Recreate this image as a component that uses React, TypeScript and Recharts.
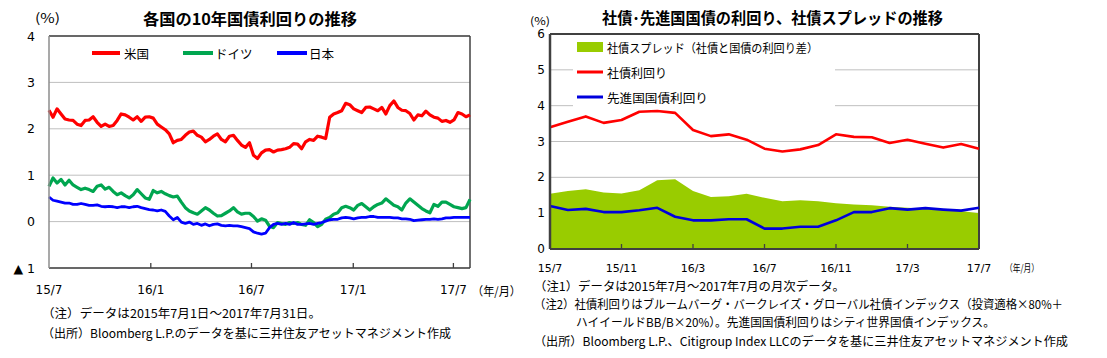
import React from 'react';
import {
  LineChart,
  Line,
  XAxis,
  YAxis,
  CartesianGrid,
  ReferenceLine,
  ComposedChart,
  Area,
} from 'recharts';

const JP = '"Noto Sans CJK JP", "Noto Sans", sans-serif';
const NUM = '"DejaVu Sans", Verdana, sans-serif';

// ---------- Left chart: 10Y government bond yields (sampled evenly 2015/7/1 - 2017/7/31) ----------
const usYield = [
  2.40, 2.25, 2.43, 2.32, 2.21, 2.19, 2.18, 2.10, 2.07, 2.18, 2.19, 2.26, 2.14, 2.05, 2.10, 2.05, 2.07, 2.18,
  2.32, 2.30, 2.25, 2.19, 2.26, 2.16, 2.25, 2.26, 2.23, 2.10, 2.04, 1.98, 1.89, 1.70, 1.75, 1.77, 1.86, 1.93,
  1.95, 1.86, 1.82, 1.72, 1.77, 1.84, 1.89, 1.77, 1.72, 1.84, 1.86, 1.75, 1.65, 1.60, 1.70, 1.43, 1.36,
  1.48, 1.54, 1.55, 1.50, 1.54, 1.55, 1.57, 1.60, 1.68, 1.67, 1.57, 1.72, 1.77, 1.75, 1.84, 1.82, 1.79, 2.25,
  2.32, 2.35, 2.39, 2.55, 2.52, 2.43, 2.39, 2.35, 2.46, 2.47, 2.43, 2.39, 2.46, 2.32, 2.50, 2.60, 2.46, 2.40,
  2.39, 2.33, 2.19, 2.30, 2.28, 2.38, 2.30, 2.25, 2.23, 2.16, 2.18, 2.14, 2.19, 2.35, 2.32, 2.26, 2.30,
];
const deYield = [
  0.76, 0.94, 0.83, 0.91, 0.79, 0.89, 0.79, 0.74, 0.69, 0.72, 0.69, 0.65, 0.76, 0.79, 0.70, 0.74, 0.65, 0.58,
  0.62, 0.56, 0.51, 0.58, 0.69, 0.60, 0.51, 0.48, 0.67, 0.62, 0.65, 0.60, 0.56, 0.53, 0.55, 0.42, 0.30, 0.23,
  0.19, 0.16, 0.23, 0.30, 0.25, 0.18, 0.12, 0.13, 0.18, 0.23, 0.30, 0.21, 0.16, 0.18, 0.18, 0.11, 0.01,
  0.06, 0.03, -0.10, -0.13, -0.02, -0.04, -0.06, -0.02, -0.04, -0.02, -0.06, -0.08, 0.04, -0.02, -0.11, -0.06, 0.05, 0.09,
  0.16, 0.19, 0.30, 0.33, 0.30, 0.25, 0.35, 0.39, 0.32, 0.25, 0.32, 0.37, 0.40, 0.49, 0.42, 0.35, 0.32, 0.25,
  0.40, 0.49, 0.42, 0.35, 0.28, 0.23, 0.19, 0.37, 0.33, 0.42, 0.42, 0.37, 0.32, 0.30, 0.28, 0.30, 0.48,
];
const jpYield = [
  0.53, 0.46, 0.44, 0.42, 0.40, 0.40, 0.37, 0.37, 0.39, 0.37, 0.35, 0.35, 0.36, 0.33, 0.32, 0.33, 0.32, 0.30,
  0.32, 0.32, 0.30, 0.32, 0.33, 0.30, 0.28, 0.26, 0.25, 0.23, 0.25, 0.22, 0.12, 0.04, 0.09, -0.01, -0.04, -0.01,
  -0.06, -0.04, -0.08, -0.05, -0.09, -0.06, -0.05, -0.08, -0.09, -0.08, -0.09, -0.09, -0.11, -0.13, -0.15, -0.22, -0.25,
  -0.27, -0.25, -0.13, -0.06, -0.04, -0.06, -0.04, -0.06, -0.02, -0.06, -0.06, -0.05, -0.04, -0.06, -0.04, -0.02, 0.01, 0.04,
  0.05, 0.05, 0.08, 0.09, 0.08, 0.06, 0.08, 0.09, 0.09, 0.11, 0.11, 0.09, 0.09, 0.09, 0.09, 0.08, 0.08, 0.06,
  0.06, 0.05, 0.02, 0.03, 0.04, 0.05, 0.05, 0.06, 0.05, 0.06, 0.08, 0.08, 0.09, 0.09, 0.09, 0.09, 0.09,
];
const LEFT_SPAN_DAYS = 761; // 2015/7/1 -> 2017/7/31
const leftTickDays = [0, 184, 366, 550, 731];
const leftTickLabels = ['15/7', '16/1', '16/7', '17/1', '17/7'];
const leftYTicks = [-1, 0, 1, 2, 3, 4];

const leftData = usYield.map((v, i) => ({
  day: (i * LEFT_SPAN_DAYS) / (usYield.length - 1),
  us: v,
  de: deYield[i],
  jp: jpYield[i],
}));

// ---------- Right chart: monthly corporate / developed gov yields and spread ----------
const months = [
  '15/7', '15/8', '15/9', '15/10', '15/11', '15/12', '16/1', '16/2', '16/3', '16/4', '16/5', '16/6', '16/7',
  '16/8', '16/9', '16/10', '16/11', '16/12', '17/1', '17/2', '17/3', '17/4', '17/5', '17/6', '17/7',
];
const corpYield = [
  3.40, 3.55, 3.70, 3.52, 3.60, 3.83, 3.85, 3.80, 3.32, 3.15, 3.20, 3.05, 2.80,
  2.72, 2.78, 2.90, 3.20, 3.13, 3.12, 2.96, 3.05, 2.94, 2.83, 2.93, 2.80,
];
const govYield = [
  1.20, 1.09, 1.12, 1.03, 1.03, 1.08, 1.15, 0.90, 0.80, 0.80, 0.83, 0.83, 0.57,
  0.57, 0.62, 0.62, 0.80, 1.03, 1.03, 1.14, 1.10, 1.14, 1.10, 1.07, 1.15,
];
const creditSpread = [
  1.54, 1.62, 1.67, 1.58, 1.55, 1.64, 1.92, 1.95, 1.62, 1.45, 1.47, 1.54, 1.43,
  1.33, 1.36, 1.33, 1.28, 1.24, 1.22, 1.18, 1.15, 1.12, 1.10, 1.06, 1.00,
];
const rightYTicks = [0, 1, 2, 3, 4, 5, 6];

const rightData = months.map((m, i) => ({
  month: m,
  corp: corpYield[i],
  gov: govYield[i],
  spread: creditSpread[i],
}));

// ---------- tick renderers ----------
const LeftXTick = ({ x, y, payload }: any) => {
  const idx = leftTickDays.indexOf(payload.value);
  return (
    <g>
      {idx > 0 && <line x1={x} x2={x} y1={y} y2={y - 5} stroke="#404040" strokeWidth={1.3} />}
      <text x={x} y={y + 22} textAnchor="middle" dominantBaseline="central" fontFamily={NUM} fontSize={12} fill="#000">
        {leftTickLabels[idx]}
      </text>
    </g>
  );
};

const LeftYTick = ({ x, y, payload }: any) => {
  const v = payload.value as number;
  const label = v < 0 ? '▲ ' + Math.abs(v) : String(v);
  return (
    <text x={x - 14} y={y} textAnchor="end" dominantBaseline="central" fontFamily={NUM} fontSize={12.5} fill="#000">
      {label}
    </text>
  );
};

const RightXTick = ({ x, y, payload }: any) => (
  <g>
    <line x1={x} x2={x} y1={y} y2={y - 5} stroke="#404040" strokeWidth={1.3} />
    <text x={x} y={y + 19} textAnchor="middle" dominantBaseline="central" fontFamily={NUM} fontSize={11} fill="#000">
      {payload.value}
    </text>
  </g>
);

const RightYTick = ({ x, y, payload }: any) => (
  <text x={x - 5} y={y} textAnchor="end" dominantBaseline="central" fontFamily={NUM} fontSize={12} fill="#000">
    {payload.value}
  </text>
);

const T = ({ x, y, children, size = 12, len, weight, anchor = 'start', family = JP }: any) => (
  <text
    x={x}
    y={y}
    fontSize={size}
    fontFamily={family}
    fontWeight={weight}
    textAnchor={anchor}
    dominantBaseline="central"
    fill="#000"
    {...(len ? { textLength: len, lengthAdjust: 'spacingAndGlyphs' } : {})}
  >
    {children}
  </text>
);

export default function App() {
  return (
    <div style={{ position: 'absolute', left: 0, top: 0, width: 1107, height: 358, background: '#fff', overflow: 'hidden' }}>
      {/* Left chart */}
      <div style={{ position: 'absolute', left: 0, top: 0 }}>
        <LineChart width={530} height={310} data={leftData} margin={{ top: 36, right: 60, bottom: 12, left: 19 }}>
          <CartesianGrid vertical={false} stroke="#bfbfbf" strokeWidth={1} />
          <XAxis
            type="number"
            dataKey="day"
            domain={[0, LEFT_SPAN_DAYS]}
            ticks={leftTickDays}
            height={30}
            tickSize={0}
            tickMargin={0}
            tickLine={false}
            tick={<LeftXTick />}
            axisLine={{ stroke: '#404040', strokeWidth: 1.5 }}
            interval={0}
          />
          <YAxis
            type="number"
            domain={[-1, 4]}
            ticks={leftYTicks}
            width={30}
            tickSize={0}
            tickMargin={0}
            tickLine={false}
            tick={<LeftYTick />}
            axisLine={{ stroke: '#8c8c8c', strokeWidth: 1.5 }}
            interval={0}
          />
          <ReferenceLine y={4} stroke="#404040" strokeWidth={1.5} />
          <ReferenceLine x={LEFT_SPAN_DAYS} stroke="#404040" strokeWidth={1.5} />
          <Line type="linear" dataKey="us" stroke="#ff0000" strokeWidth={3.2} dot={false} isAnimationActive={false} strokeLinejoin="round" />
          <Line type="linear" dataKey="de" stroke="#00a650" strokeWidth={3.2} dot={false} isAnimationActive={false} strokeLinejoin="round" />
          <Line type="linear" dataKey="jp" stroke="#0000ff" strokeWidth={2.8} dot={false} isAnimationActive={false} strokeLinejoin="round" />
        </LineChart>
      </div>

      {/* Right chart */}
      <div style={{ position: 'absolute', left: 500, top: 0 }}>
        <ComposedChart width={540} height={300} data={rightData} margin={{ top: 34, right: 61, bottom: 21, left: 20 }}>
          <CartesianGrid vertical={false} stroke="#bfbfbf" strokeWidth={1} />
          <XAxis
            dataKey="month"
            scale="point"
            padding={{ left: 0, right: 0 }}
            interval={3}
            height={30}
            tickSize={0}
            tickMargin={0}
            tickLine={false}
            tick={<RightXTick />}
            axisLine={{ stroke: '#404040', strokeWidth: 2 }}
          />
          <YAxis
            type="number"
            domain={[0, 6]}
            ticks={rightYTicks}
            width={30}
            tickSize={0}
            tickMargin={0}
            tickLine={false}
            tick={<RightYTick />}
            axisLine={{ stroke: '#404040', strokeWidth: 2.5 }}
            interval={0}
          />
          <Area type="linear" dataKey="spread" stroke="none" fill="#99cc00" fillOpacity={1} isAnimationActive={false} />
          <ReferenceLine y={6} stroke="#404040" strokeWidth={2} />
          <ReferenceLine x="17/7" stroke="#404040" strokeWidth={2} />
          <Line type="linear" dataKey="corp" stroke="#ff0000" strokeWidth={2.6} dot={false} isAnimationActive={false} strokeLinejoin="round" />
          <Line type="linear" dataKey="gov" stroke="#0000dd" strokeWidth={2.6} dot={false} isAnimationActive={false} strokeLinejoin="round" />
        </ComposedChart>
      </div>

      {/* Overlay texts and legends */}
      <svg width={1107} height={358} style={{ position: 'absolute', left: 0, top: 0, pointerEvents: 'none' }}>
        {/* left */}
        <T x={35} y={17} size={13} len={25}>(%)</T>
        <T x={143} y={18} size={16} weight="bold" len={214}>各国の10年国債利回りの推移</T>
        <line x1={92} x2={120} y1={53} y2={53} stroke="#ff0000" strokeWidth={4} />
        <T x={124} y={53} size={12.5}>米国</T>
        <line x1={183} x2={213} y1={53} y2={53} stroke="#00a650" strokeWidth={4} />
        <T x={215} y={53} size={12.5}>ドイツ</T>
        <line x1={277} x2={307} y1={53} y2={53} stroke="#0000ff" strokeWidth={4} />
        <T x={309} y={53} size={12.5}>日本</T>
        <T x={472} y={290} size={12} len={49}>（年/月）</T>
        <T x={42} y={312} size={12} len={279}>（注）データは2015年7月1日～2017年7月31日。</T>
        <T x={42} y={332} size={12} len={409}>（出所）Bloomberg L.P.のデータを基に三井住友アセットマネジメント作成</T>

        {/* right */}
        <T x={530} y={20} size={11} len={20}>(%)</T>
        <T x={602} y={17} size={16} weight="bold" len={341}>社債･先進国国債の利回り、社債スプレッドの推移</T>
        <rect x={573} y={36} width={262} height={72} fill="#fff" />
        <rect x={577} y={42} width={26} height={10} fill="#99cc00" />
        <T x={607} y={47} size={12} len={211}>社債スプレッド（社債と国債の利回り差）</T>
        <line x1={577} x2={603} y1={72} y2={72} stroke="#ff0000" strokeWidth={3} />
        <T x={607} y={72} size={12}>社債利回り</T>
        <line x1={577} x2={603} y1={97} y2={97} stroke="#0000dd" strokeWidth={3} />
        <T x={607} y={97} size={12} len={101}>先進国国債利回り</T>
        <T x={1005} y={267} size={10} len={34}>（年/月）</T>
        <T x={534} y={285} size={12} len={311}>（注1）データは2015年7月～2017年7月の月次データ。</T>
        <T x={534} y={303} size={12} len={529}>（注2）社債利回りはブルームバーグ・バークレイズ・グローバル社債インデックス（投資適格×80%＋</T>
        <T x={576} y={321} size={12} len={419}>ハイイールドBB/B×20%）。先進国国債利回りはシティ世界国債インデックス。</T>
        <T x={534} y={340} size={12} len={534}>（出所）Bloomberg L.P.、Citigroup Index LLCのデータを基に三井住友アセットマネジメント作成</T>
      </svg>
    </div>
  );
}
